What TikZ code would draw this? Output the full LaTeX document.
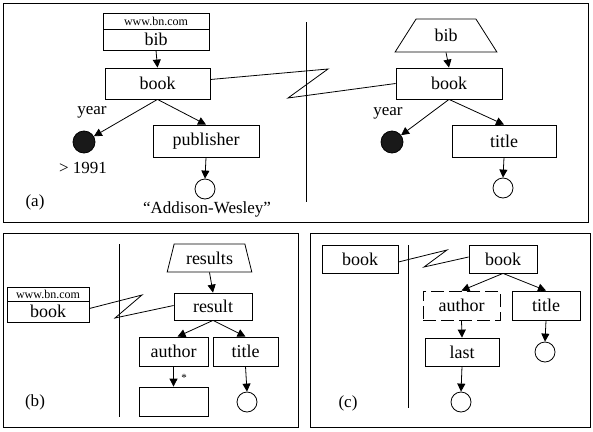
\documentclass[tikz,border=0pt]{standalone}
\usepackage{fontspec}
\setmainfont{Liberation Serif}
\usetikzlibrary{arrows.meta,shapes.geometric}
\begin{document}
\begin{tikzpicture}[x=1pt,y=-1pt,
  box/.style={draw, line width=0.8pt, rectangle, inner sep=0pt, font=\fontsize{18}{20}\selectfont},
  small/.style={draw, line width=0.8pt, rectangle, inner sep=0pt, font=\fontsize{12}{13}\selectfont},
  trap/.style={draw, line width=0.8pt, shape=trapezium, inner sep=0pt, trapezium stretches=true, font=\fontsize{18}{20}\selectfont},
  arr/.style={-{Triangle[length=8pt,width=8pt]}, line width=0.8pt},
  leaf/.style={circle, draw, line width=0.8pt, minimum size=20pt, inner sep=0pt},
  dot/.style={circle, draw, fill=black!90, line width=0.8pt, minimum size=22pt, inner sep=0pt},
  lbl/.style={inner sep=0pt, font=\fontsize{17}{20}\selectfont},
  frame/.style={draw, line width=1pt},
  sep/.style={draw, line width=0.8pt},
  zz/.style={draw, line width=0.8pt}]
\useasboundingbox (0,0) rectangle (593,431);
% ---------------- panel (a) ----------------
\draw[frame] (3,3) rectangle (588,222);
\node[small, minimum width=106pt, minimum height=16pt] (wwwA) at (156,21) {www.bn.com};
\node[box, minimum width=106pt, minimum height=21pt] (bibA) at (156,39.5) {bib};
\node[box, minimum width=105pt, minimum height=31pt] (bookA) at (157.5,83.5) {book};
\node[lbl] (yearA) at (92,112) {year};
\node[dot] (dotA) at (84,142) {};
\node[box, minimum width=106pt, minimum height=32pt] (pubA) at (206,141) {publisher};
\node[lbl] (gtA) at (83,168) {> 1991};
\node[leaf] (leafA) at (205,189) {};
\node[lbl] (labA) at (35,202) {(a)};
\node[lbl] (awA) at (207,209) {``Addison-Wesley''};
\draw[arr] (bibA.south) -- (bookA.north);
\draw[arr] (bookA.south) -- (dotA);
\draw[arr] (bookA.south) -- (pubA.north);
\draw[arr] (pubA.south) -- (leafA.north);
\coordinate (sepA1) at (306,22);
\coordinate (sepA2) at (306,202);
\draw[sep] (sepA1) -- (sepA2);
\node[trap, trapezium left angle=57.5, trapezium right angle=57.5, minimum width=102pt, minimum height=33pt] (bibB) at (446,35.5) {bib};
\node[box, minimum width=106pt, minimum height=31pt] (bookB) at (449,83.5) {book};
\node[lbl] (yearB) at (388,113) {year};
\node[dot] (dotB) at (392,142) {};
\node[box, minimum width=104pt, minimum height=32pt] (titleB) at (504,141) {title};
\node[leaf] (leafB) at (503,188) {};
\draw[arr] (bibB.south) -- (bookB.north);
\draw[arr] (bookB.south) -- (dotB);
\draw[arr] (bookB.south) -- (titleB.north);
\draw[arr] (titleB.south) -- (leafB.north);
\coordinate (zA1) at (328,69);
\coordinate (zA2) at (288,98);
\draw[zz] ([yshift=4pt]bookA.east) -- (zA1) -- (zA2) -- (bookB.west);
% ---------------- panel (b) ----------------
\draw[frame] (3,233) rectangle (298,427);
\coordinate (sepB1) at (119,244);
\coordinate (sepB2) at (119,417);
\draw[sep] (sepB1) -- (sepB2);
\node[small, minimum width=82pt, minimum height=14pt] (wwwC) at (48,294) {www.bn.com};
\node[box, minimum width=82pt, minimum height=21pt] (bookD) at (48,311.5) {book};
\node[trap, trapezium left angle=70, trapezium right angle=70, minimum width=85pt, minimum height=28pt] (results) at (209.5,258) {results};
\node[box, minimum width=78pt, minimum height=27pt] (result) at (213,306.5) {result};
\node[box, minimum width=69pt, minimum height=29pt] (authorD) at (173.5,351.5) {author};
\node[box, minimum width=65pt, minimum height=29pt] (titleD) at (245.5,351.5) {title};
\node[box, minimum width=69pt, minimum height=29pt] (emptyD) at (173.5,401.5) {};
\node[inner sep=0pt, font=\fontsize{11}{12}\selectfont] (star) at (184,378) {*};
\node[leaf] (leafD) at (247,402) {};
\node[lbl] (labB) at (35,402) {(b)};
\draw[arr] (results.south) -- (result.north);
\draw[arr] (result.south) -- ([xshift=4pt]authorD.north);
\draw[arr] (result.south) -- (titleD.north);
\draw[arr] (authorD.south) -- (emptyD.north);
\draw[arr] (titleD.south) -- (leafD.north);
\coordinate (zB1) at (142,295);
\coordinate (zB2) at (115,318);
\draw[zz] ([yshift=3pt]bookD.east) -- (zB1) -- (zB2) -- ([yshift=1pt]result.west);
% ---------------- panel (c) ----------------
\draw[frame] (310,233) rectangle (590,427);
\node[box, minimum width=76pt, minimum height=28pt] (bookE) at (360,259) {book};
\coordinate (sepC1) at (408,245);
\coordinate (sepC2) at (408,408);
\draw[sep] (sepC1) -- (sepC2);
\node[box, minimum width=68pt, minimum height=28pt] (bookF) at (503,259) {book};
\node[box, dash pattern=on 13pt off 5pt, minimum width=77pt, minimum height=29pt] (authorF) at (461.5,305.5) {author};
\node[box, minimum width=68pt, minimum height=29pt] (titleF) at (546,305.5) {title};
\node[box, minimum width=74pt, minimum height=28pt] (lastF) at (462,352) {last};
\node[leaf] (leafF1) at (545,352) {};
\node[leaf] (leafF2) at (461,402) {};
\node[lbl] (labC) at (348,403) {(c)};
\draw[arr] (bookF.south) -- (authorF.north);
\draw[arr] (bookF.south) -- (titleF.north);
\draw[arr] (authorF.south) -- (lastF.north);
\draw[arr] (titleF.south) -- (leafF1.north);
\draw[arr] (lastF.south) -- (leafF2.north);
\coordinate (zC1) at (447,250);
\coordinate (zC2) at (424,267);
\draw[zz] ([yshift=-3pt]bookE.east) -- (zC1) -- (zC2) -- ([yshift=2pt]bookF.west);
\end{tikzpicture}
\end{document}
